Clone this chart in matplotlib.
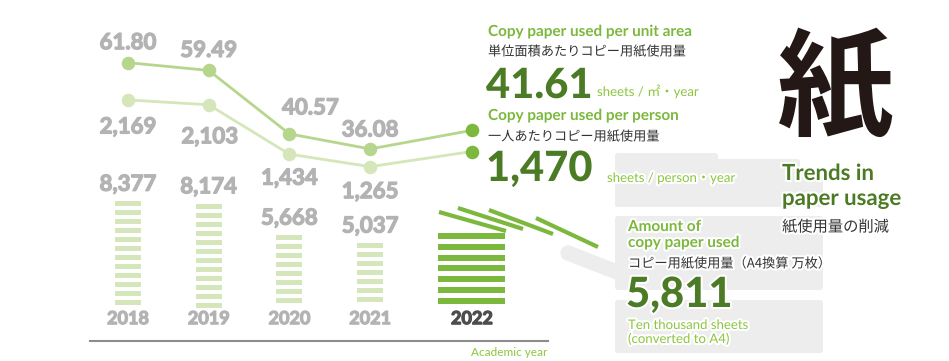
import numpy as np
import matplotlib.pyplot as plt
import matplotlib.patheffects as pe
from matplotlib.patches import FancyBboxPatch

# 年度
years = ["2018", "2019", "2020", "2021", "2022"]
# 単位面積あたりコピー用紙使用量（枚/㎡・年）
per_area = [61.80, 59.49, 40.57, 36.08, 41.61]
# 一人あたりコピー用紙使用量（枚/人・年）
per_person = [2169, 2103, 1434, 1265, 1470]
# コピー用紙使用量（A4換算 万枚）
paper_total = [8377, 8174, 5668, 5037, 5811]

plt.rcParams['font.family'] = ['Lato', 'Noto Sans CJK JP', 'DejaVu Sans']

W, H = 949, 361
X0, DX = 128, 80.7          # x軸: 2018年の位置と1年あたりのピクセル
GRAY = '#b3b3b3'
LIGHT1 = '#b7d68d'
LIGHT2 = '#d5e6ba'
GREEN = '#7cb83d'
DARK = '#4b7b24'
UNIT = '#8cc63f'
BOX = '#ededed'

fig = plt.figure(figsize=(W / 100, H / 100), dpi=100)

# 背景の装飾用（ピクセル座標）
bg = fig.add_axes([0, 0, 1, 1])
bg.set_xlim(0, W)
bg.set_ylim(H, 0)
bg.axis('off')


def layer(zero_px, px_per_unit):
    ax = fig.add_axes([0, 0, 1, 1])
    ax.patch.set_alpha(0)
    ax.axis('off')
    ax.set_xlim(-X0 / DX, (W - X0) / DX)
    base = H - zero_px
    ax.set_ylim(-base / px_per_unit, (H - base) / px_per_unit)
    return ax


def thick_text(t, color):
    # 太字をもう少し太く見せる
    t.set_path_effects([pe.withStroke(linewidth=0.9, foreground=color)])


x = np.arange(len(years)) + np.array([0, 0, 0, 0, 0.26])

# 灰色のボックス
for x0, y0, x1, y1 in [(615, 153, 718, 207), (615, 159, 800, 207), (615, 173, 823, 207),
                       (615, 216, 823, 290), (615, 300, 823, 353)]:
    bg.add_patch(FancyBboxPatch((x0, y0), x1 - x0, y1 - y0, boxstyle='round,pad=0,rounding_size=3',
                                fc=BOX, ec='none', zorder=0))
bg.plot([568, 617], [253, 272], color=BOX, lw=11, solid_capstyle='round', zorder=0)

# 飛んでいく紙
for (a, b), (c, d) in [((439, 212), (506, 231)), ((458, 208), (523, 229)),
                       ((489, 210), (553, 234)), ((536, 218), (598, 247))]:
    bg.plot([a, c], [b, d], color=GREEN, lw=3, solid_capstyle='butt', zorder=1)

# 横軸の線
bg.plot([90, 548], [341, 341], color='#8c8c8c', lw=1.5, zorder=1)
bg.text(547, 352, 'Academic year', color=UNIT, fontsize=8.5, ha='right', va='center')

# コピー用紙使用量（縞模様の棒）
axb = layer(306, 0.0125)
for i, v in enumerate(paper_total):
    last = i == len(years) - 1
    pitch, thick = (856, 480) if last else (720, 400)
    width = 0.83 if last else 0.32
    color = GREEN if last else LIGHT2
    bottoms = np.arange(v - thick, -thick * 0.5, -pitch)
    axb.bar(np.full(len(bottoms), x[i]), np.full(len(bottoms), thick), width=width,
            bottom=bottoms, color=color, linewidth=0)
    if not last:
        t = axb.annotate(f'{v:,}', (x[i], v), xytext=(0, 17), textcoords='offset pixels',
                         ha='center', va='center', color=GRAY, fontsize=16, fontweight='bold')
        thick_text(t, GRAY)

# 年度ラベル
for i, y in enumerate(years):
    c = '#4d4d4d' if i == len(years) - 1 else GRAY
    t = axb.text(x[i], -1450, y, ha='center', va='baseline', fontsize=13, fontweight='bold', color=c)
    thick_text(t, c)

# 一人あたり
axp = layer(260, 0.0738)
axp.plot(x, per_person, color=LIGHT2, lw=2, zorder=2)
axp.scatter(x[:-1], per_person[:-1], s=95, color=LIGHT2, zorder=3, linewidths=0)
axp.scatter(x[-1:], per_person[-1:], s=95, color=GREEN, zorder=3, linewidths=0)
for i, (dx, dy) in enumerate([(0, -27), (1, -32), (0, -24), (0, -25)]):
    t = axp.annotate(f'{per_person[i]:,}', (x[i], per_person[i]), xytext=(dx, dy),
                     textcoords='offset pixels', ha='center', va='center',
                     color=GRAY, fontsize=16, fontweight='bold')
    thick_text(t, GRAY)

# 単位面積あたり
axa = layer(270, 3.355)
axa.plot(x, per_area, color=LIGHT1, lw=2, zorder=2)
axa.scatter(x[:-1], per_area[:-1], s=95, color=LIGHT1, zorder=3, linewidths=0)
axa.scatter(x[-1:], per_area[-1:], s=95, color=GREEN, zorder=3, linewidths=0)
for i, (dx, dy) in enumerate([(0, 20), (0, 20), (21, 26), (0, 19)]):
    t = axa.annotate(f'{per_area[i]:.2f}', (x[i], per_area[i]), xytext=(dx, dy),
                     textcoords='offset pixels', ha='center', va='center',
                     color=GRAY, fontsize=16, fontweight='bold')
    thick_text(t, GRAY)

# 右側のテキスト
halo = [pe.withStroke(linewidth=3, foreground='white')]


def label(px, py, s, va='baseline', **kw):
    t = bg.text(px, py, s, va=va, zorder=5, **kw)
    t.set_path_effects(halo)
    return t


label(488, 36, 'Copy paper used per unit area', color=GREEN, fontsize=11, fontweight='bold')
label(488, 52, '単位面積あたりコピー用紙使用量', va='center', color='#333333', fontsize=9.5,
      family=['Noto Sans CJK JP'])
label(486, 98, f'{per_area[-1]:.2f}', color=DARK, fontsize=30, fontweight='black')
label(597, 96, 'sheets / ㎡・year', color=UNIT, fontsize=9.5)
label(488, 120, 'Copy paper used per person', color=GREEN, fontsize=11, fontweight='bold')
label(488, 137, '一人あたりコピー用紙使用量', va='center', color='#333333', fontsize=9.5,
      family=['Noto Sans CJK JP'])
label(486, 181, f'{per_person[-1]:,}', color=DARK, fontsize=30, fontweight='black')
label(607, 182, 'sheets / person・year', color=UNIT, fontsize=9.5)

label(628, 231, 'Amount of', color=GREEN, fontsize=11, fontweight='bold')
label(628, 247, 'copy paper used', color=GREEN, fontsize=11, fontweight='bold')
label(628, 264, 'コピー用紙使用量（A4換算 万枚）', va='center', color='#333333', fontsize=9.5,
      family=['Noto Sans CJK JP'])
label(626, 307, f'{paper_total[-1]:,}', color=DARK, fontsize=30, fontweight='black')
label(628, 329, 'Ten thousand sheets', color=UNIT, fontsize=9.5)
label(628, 343, '(converted to A4)', color=UNIT, fontsize=9.5)

bg.text(835, 92, '紙', ha='center', va='center', color='#231815', fontsize=84,
        fontweight='bold', family=['Noto Sans CJK JP'], zorder=5)
label(782, 180, 'Trends in', color=DARK, fontsize=16, fontweight='bold')
label(782, 205, 'paper usage', color=DARK, fontsize=16, fontweight='bold')
label(782, 227, '紙使用量の削減', va='center', color='#333333', fontsize=11,
      family=['Noto Sans CJK JP'])

fig.savefig('out.png', dpi=100)
